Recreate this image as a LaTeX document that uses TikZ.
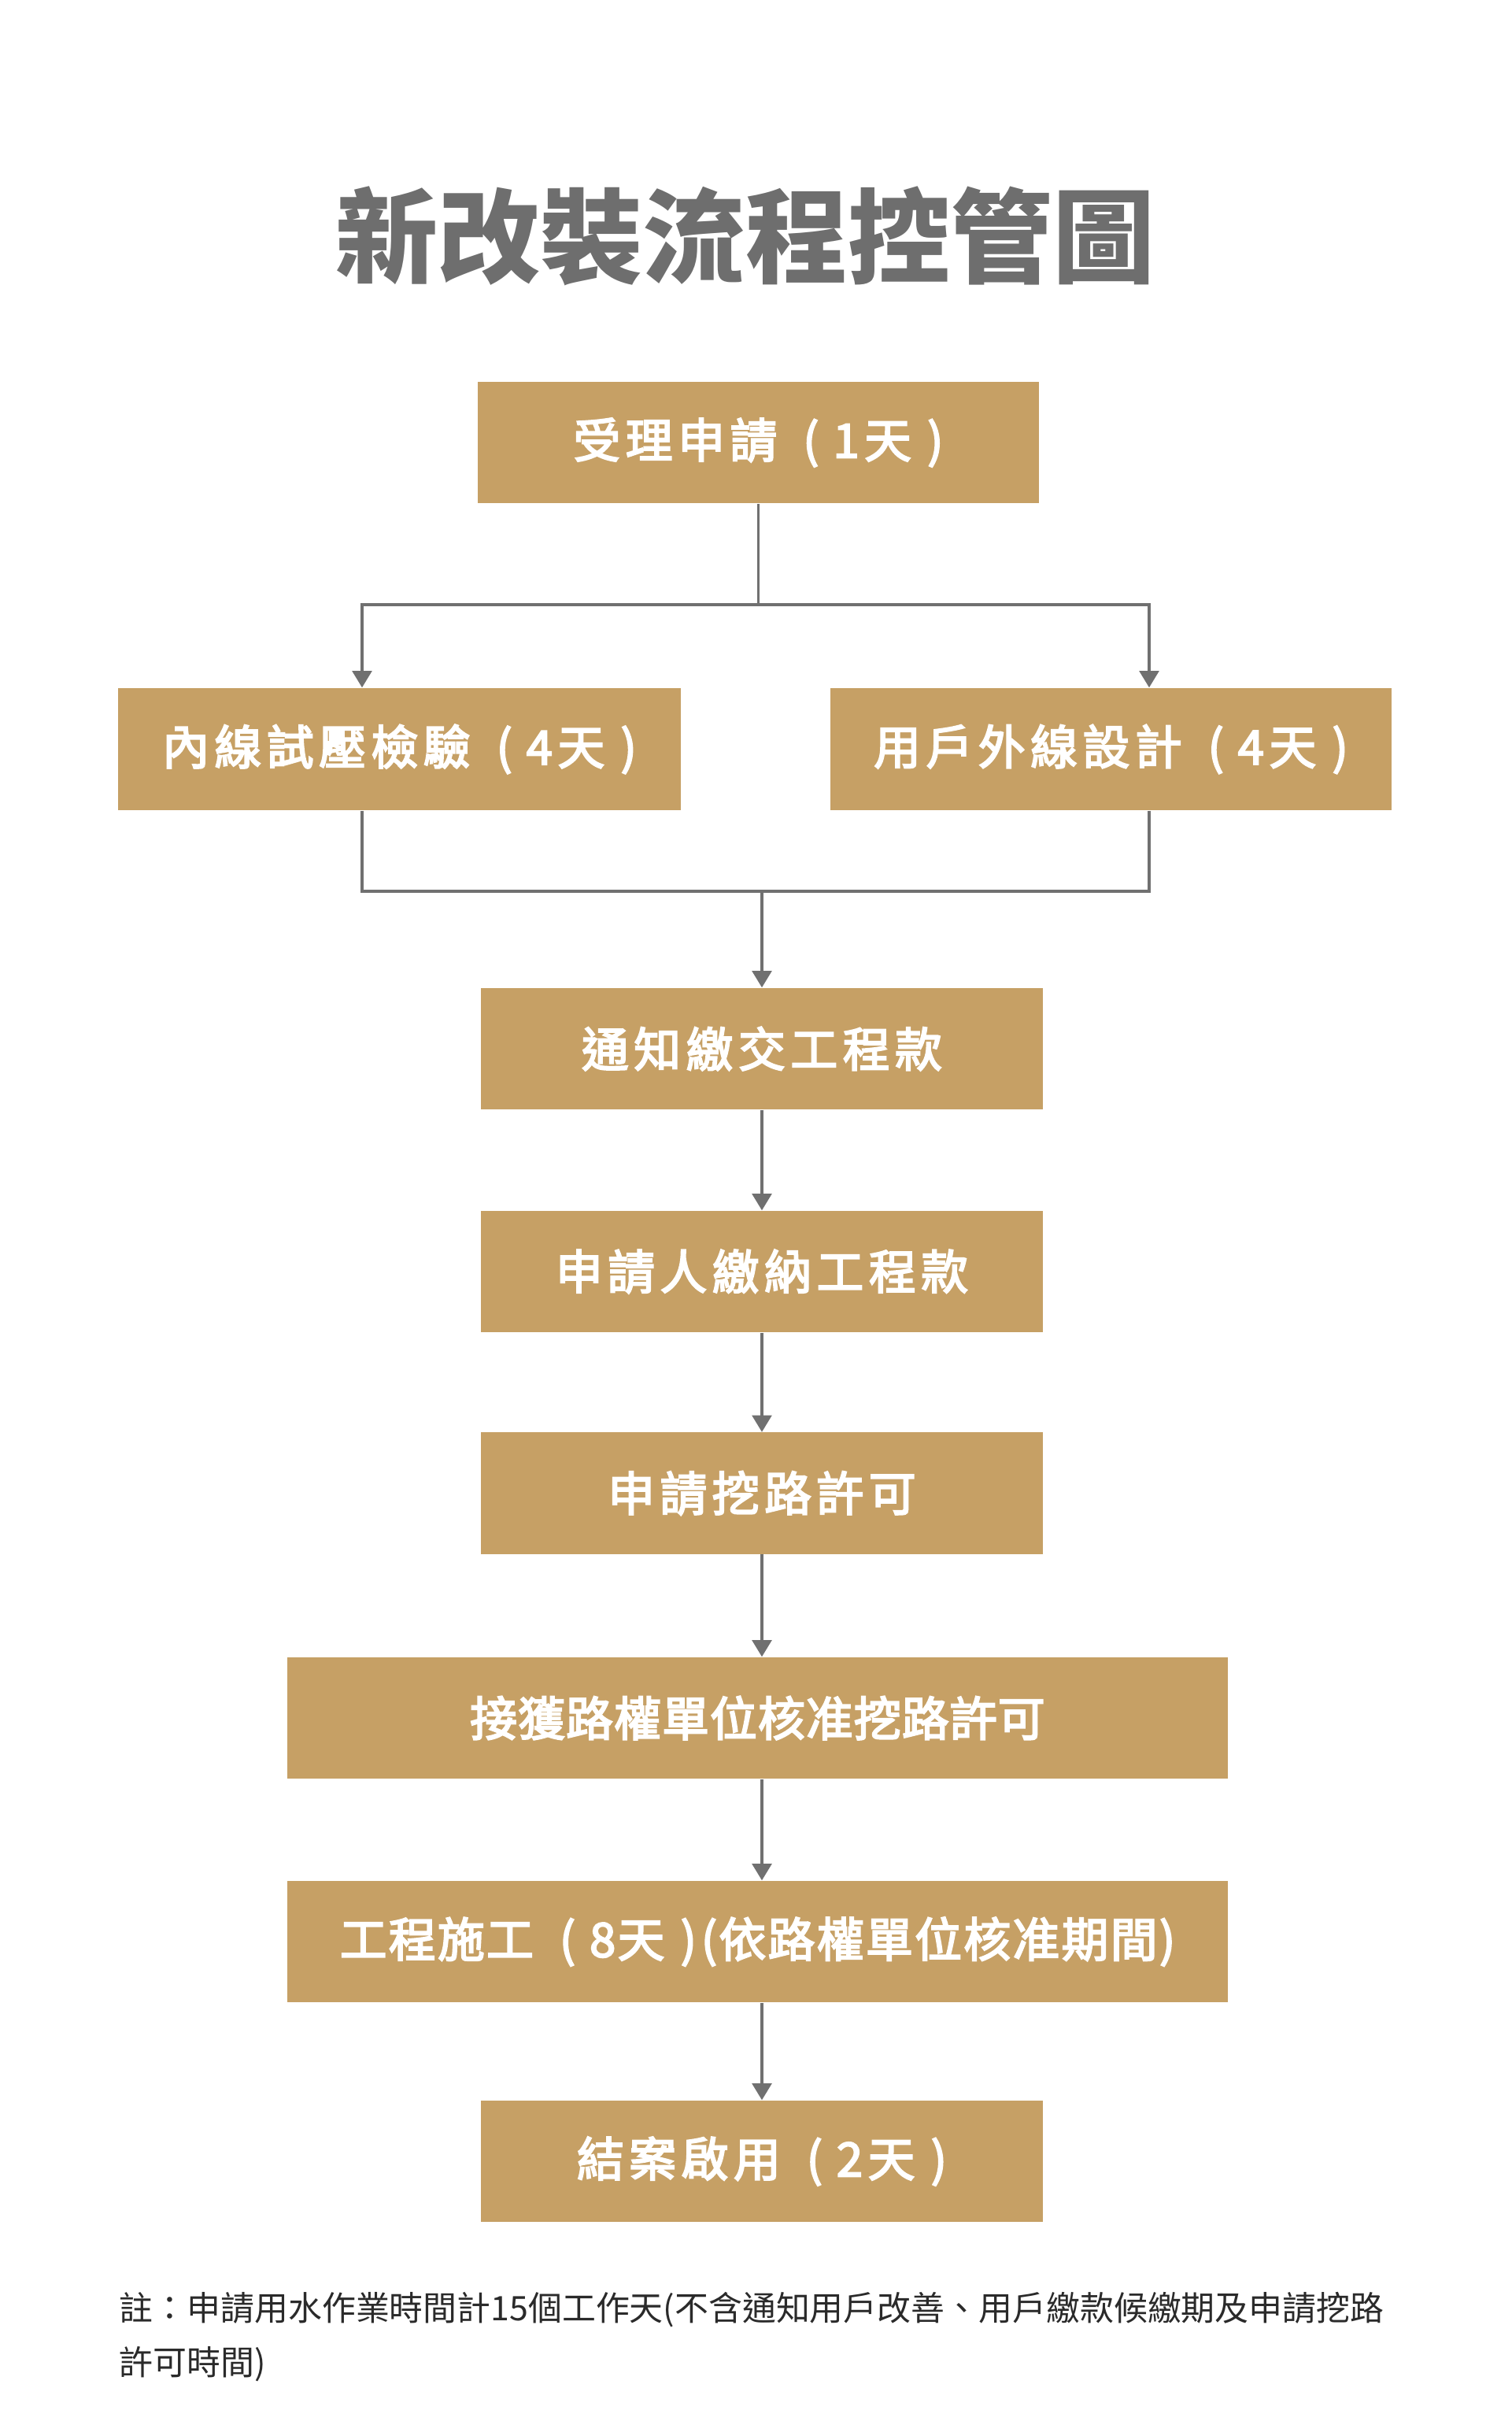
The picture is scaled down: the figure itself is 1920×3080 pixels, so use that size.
\documentclass[tikz,border=0pt]{standalone}
\usepackage{fontspec}
\usetikzlibrary{arrows.meta}
\newfontfamily\cjk{Noto Sans CJK TC}
\newfontfamily\cjkls[LetterSpace=11,FakeBold=3.5]{Noto Sans CJK TC}
\newfontfamily\cjkld[LetterSpace=2,FakeBold=3.5]{Noto Sans CJK TC}
\newfontfamily\cjkle[LetterSpace=4,FakeBold=3.5]{Noto Sans CJK TC}
\newcommand{\dayp}[1]{\hspace{0.55em}(\hspace{0.3em}#1\hspace{0.34em})}
\definecolor{boxgold}{HTML}{C6A065}
\definecolor{linegray}{HTML}{707070}
\definecolor{titlegray}{HTML}{6E6E6E}
\definecolor{notegray}{HTML}{2A2A2A}
\tikzset{
  stepbox/.style={fill=boxgold, draw=none, inner sep=0pt, minimum height=1.54cm,
    text=white, font=\cjkls\fontsize{17}{20}\selectfont},
  narrowbox/.style={stepbox, minimum width=7.14cm},
  widebox/.style={stepbox, minimum width=11.95cm, font=\cjkld\fontsize{17}{20}\selectfont},
  conn/.style={draw=linegray, line width=1pt},
  arr/.style={conn, -{Triangle[length=6pt, width=7pt]}},
}
\begin{document}
\begin{tikzpicture}[x=0.01cm, y=-0.01cm]
\fill[white] (0,0) rectangle (1920,3080);
\useasboundingbox (0,0) rectangle (1920,3080);

\node[font=\cjk\bfseries\fontsize{37}{44}\selectfont, text=titlegray] (title) at (947,300) {新改裝流程控管圖};

\node[narrowbox, minimum width=7.13cm] (b1) at (963.5,562) {受理申請\dayp{1天}};
\node[narrowbox, minimum width=7.15cm, minimum height=1.55cm] (b2) at (507.5,951.5) {內線試壓檢驗\dayp{4天}};
\node[narrowbox, minimum width=7.13cm, minimum height=1.55cm] (b3) at (1411.5,951.5) {用戶外線設計\dayp{4天}};
\node[narrowbox] (b4) at (968,1332) {通知繳交工程款};
\node[narrowbox] (b5) at (968,1615) {申請人繳納工程款};
\node[narrowbox] (b6) at (968,1896.5) {申請挖路許可};
\node[widebox] (b7) at (962.5,2182) {接獲路權單位核准挖路許可};
\node[widebox, font=\cjkle\fontsize{17}{20}\selectfont] (b8) at (962.5,2466) {工程施工\dayp{8天}\hspace{0.1em}(依路權單位核准期間)};
\node[narrowbox] (b9) at (968,2745) {結案啟用\dayp{2天}};

\coordinate (lx) at (460,0);
\coordinate (rx) at (1460,0);
\coordinate (jt) at (963.5,768);
\coordinate (jb) at (968,1132);

\draw[conn] (b1.south) -- (jt);
\draw[arr] (jt) -| (b2.north -| lx);
\draw[arr] (jt) -| (b3.north -| rx);
\draw[conn] (b2.south -| lx) |- (jb);
\draw[conn] (b3.south -| rx) |- (jb);
\draw[arr] (jb) -- (b4.north);
\draw[arr] (b4.south) -- (b5.north);
\draw[arr] (b5.south) -- (b6.north);
\draw[arr] (b6.south) -- (b7.north -| b6.south);
\draw[arr] (b7.south -| b6.south) -- (b8.north -| b6.south);
\draw[arr] (b8.south -| b9.north) -- (b9.north);

\node[anchor=north west, inner sep=0pt, align=left, text=notegray,
  font=\cjk\fontsize{12.2}{19.35}\selectfont] (note) at (151,2911)
  {註：申請用水作業時間計15個工作天(不含通知用戶改善、用戶繳款候繳期及申請挖路\\許可時間)};
\end{tikzpicture}
\end{document}
